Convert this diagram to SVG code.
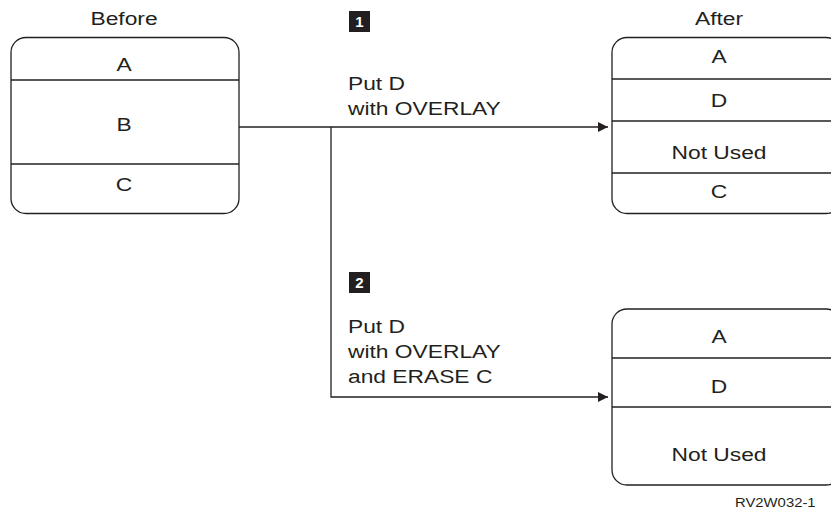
<svg xmlns="http://www.w3.org/2000/svg" width="831" height="512" viewBox="0 0 831 512">
<style>
.box{fill:#fff;stroke:#231f20;stroke-width:1.3}
.div{stroke:#231f20;stroke-width:1.3}
.t{font-family:"Liberation Sans",Arial,sans-serif;font-size:19px;fill:#231f20}
.c{text-anchor:middle}
.conn{fill:none;stroke:#231f20;stroke-width:1.3}
.badge{fill:#231f20}
.bt{font-family:"Liberation Sans",Arial,sans-serif;font-size:15px;font-weight:bold;fill:#fff;text-anchor:middle}
</style>
<defs>
<marker id="arr" markerUnits="userSpaceOnUse" markerWidth="12" markerHeight="12" refX="10" refY="5" orient="auto">
<path d="M0,0 L10,5 L0,10 Z" fill="#231f20"/>
</marker>
</defs>
<rect width="831" height="512" fill="#fff"/>

<g id="connectors">
<path class="conn" d="M239,127 H608" marker-end="url(#arr)"/>
<path class="conn" d="M331,127 V397 H608" marker-end="url(#arr)"/>
</g>

<g id="before">
<text class="t c" transform="translate(124,25) scale(1.2,1)">Before</text>
<rect class="box" x="11" y="37.5" width="228" height="176" rx="15"/>
<line class="div" x1="11" y1="80" x2="239" y2="80"/>
<line class="div" x1="11" y1="164" x2="239" y2="164"/>
<text class="t c" transform="translate(124,71) scale(1.2,1)">A</text>
<text class="t c" transform="translate(124,131) scale(1.2,1)">B</text>
<text class="t c" transform="translate(124,191) scale(1.2,1)">C</text>
</g>

<g id="after1">
<text class="t c" transform="translate(719,25) scale(1.2,1)">After</text>
<rect class="box" x="612" y="37.5" width="229" height="176" rx="15"/>
<line class="div" x1="612" y1="79" x2="831" y2="79"/>
<line class="div" x1="612" y1="121" x2="831" y2="121"/>
<line class="div" x1="612" y1="173" x2="831" y2="173"/>
<text class="t c" transform="translate(719,63) scale(1.2,1)">A</text>
<text class="t c" transform="translate(719,107) scale(1.2,1)">D</text>
<text class="t c" transform="translate(719,159) scale(1.2,1)">Not Used</text>
<text class="t c" transform="translate(719,198) scale(1.2,1)">C</text>
</g>

<g id="label1">
<rect class="badge" x="349" y="11" width="21" height="21"/>
<text class="bt" x="359.5" y="27">1</text>
<text class="t" transform="translate(348,90) scale(1.2,1)">Put D</text>
<text class="t" transform="translate(348,115) scale(1.2,1)">with OVERLAY</text>
</g>

<g id="label2">
<rect class="badge" x="349" y="272" width="21" height="21"/>
<text class="bt" x="359.5" y="288">2</text>
<text class="t" transform="translate(348,333) scale(1.2,1)">Put D</text>
<text class="t" transform="translate(348,358) scale(1.2,1)">with OVERLAY</text>
<text class="t" transform="translate(348,383) scale(1.2,1)">and ERASE C</text>
</g>

<g id="after2">
<rect class="box" x="612" y="309" width="229" height="176" rx="15"/>
<line class="div" x1="612" y1="358" x2="831" y2="358"/>
<line class="div" x1="612" y1="407" x2="831" y2="407"/>
<text class="t c" transform="translate(719,343) scale(1.2,1)">A</text>
<text class="t c" transform="translate(719,393) scale(1.2,1)">D</text>
<text class="t c" transform="translate(719,461) scale(1.2,1)">Not Used</text>
</g>

<g id="figid">
<text transform="translate(735,507) scale(1.1,1)" style="font-family:'Liberation Sans',Arial,sans-serif;font-size:13.5px;fill:#231f20">RV2W032-1</text>
</g>
</svg>
